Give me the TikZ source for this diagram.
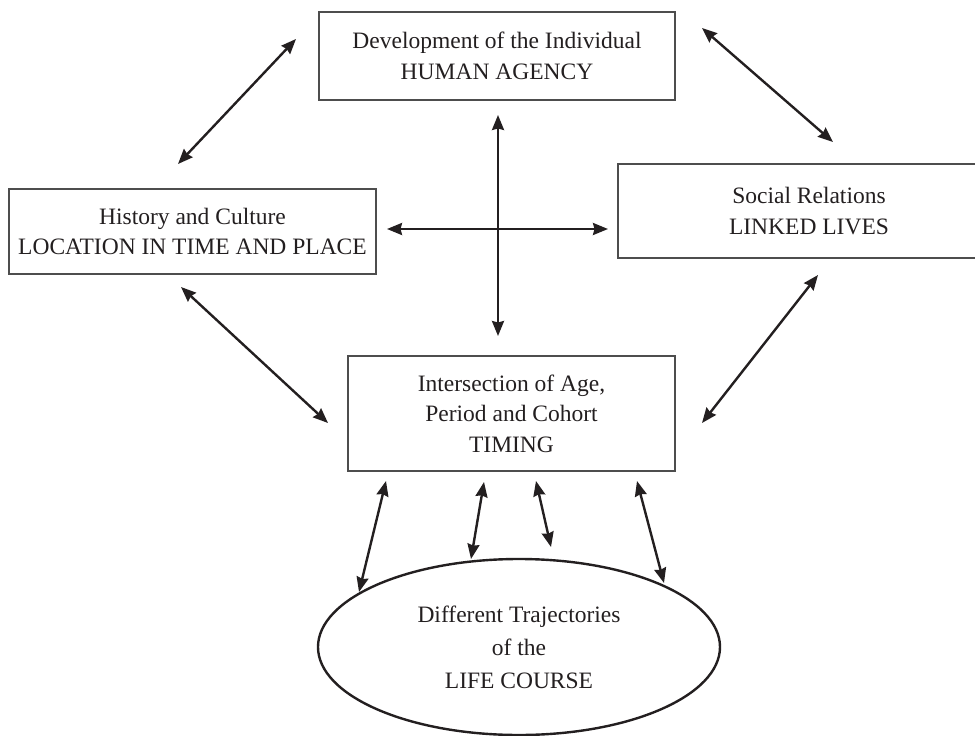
\documentclass[tikz,border=0pt]{standalone}
\usepackage{fontspec}
\setmainfont{Liberation Serif}
\usetikzlibrary{arrows.meta,shapes.geometric}
\definecolor{ink}{HTML}{231F20}
\definecolor{boxline}{HTML}{4D4D4D}
\begin{document}
\begin{tikzpicture}[x=1pt,y=-1pt,
  box/.style={draw=boxline, line width=1.4pt, rectangle, inner sep=0pt,
    align=center, text=ink, font=\fontsize{23.5}{30.5}\selectfont},
  oval/.style={draw=ink, line width=2.4pt, ellipse, inner sep=0pt,
    align=center, text=ink, font=\fontsize{23.5}{33}\selectfont,
    minimum width=402pt, minimum height=176pt},
  link/.style={draw=ink, line width=2.4pt,
    {Stealth[length=15pt,width=12pt,inset=1.5pt]}-{Stealth[length=15pt,width=12pt,inset=1.5pt]}}
]
\useasboundingbox (0,0) rectangle (975,736);

% boxes
\node[box, minimum width=356pt, minimum height=88pt] (dev) at (497,56)
  {Development of the Individual\\HUMAN AGENCY};
\node[box, minimum width=367pt, minimum height=85pt] (hist) at (192.5,231.5)
  {History and Culture\\LOCATION IN TIME AND PLACE};
\node[box, minimum width=382pt, minimum height=94pt] (soc) at (809,211)
  {Social Relations\\LINKED LIVES};
\node[box, minimum width=327pt, minimum height=115pt] (tim) at (511.5,413.5)
  {Intersection of Age,\\Period and Cohort\\TIMING};
\node[oval] (life) at (519,647)
  {Different Trajectories\\of the\\LIFE COURSE};

% arrow end points
\coordinate (a1s) at (296,39);  \coordinate (a1e) at (178,164);
\coordinate (a2s) at (702,28);  \coordinate (a2e) at (833,142);
\coordinate (a3s) at (181,287); \coordinate (a3e) at (328,423);
\coordinate (a4s) at (818,275); \coordinate (a4e) at (702,423);
\coordinate (hs) at (387,229);  \coordinate (he) at (608,229);
\coordinate (vs) at (498,115);  \coordinate (ve) at (498,336);
\coordinate (b1s) at (386,481); \coordinate (b1e) at (359,592);
\coordinate (b2s) at (484,482); \coordinate (b2e) at (471,559);
\coordinate (b3s) at (536,481); \coordinate (b3e) at (551,547);
\coordinate (b4s) at (637,481); \coordinate (b4e) at (664,583);

\draw[link] (a1s) -- (a1e);
\draw[link] (a2s) -- (a2e);
\draw[link] (a3s) -- (a3e);
\draw[link] (a4s) -- (a4e);
\draw[link] (hs) -- (he);
\draw[link] (vs) -- (ve);
\draw[link] (b1s) -- (b1e);
\draw[link] (b2s) -- (b2e);
\draw[link] (b3s) -- (b3e);
\draw[link] (b4s) -- (b4e);
\end{tikzpicture}
\end{document}
